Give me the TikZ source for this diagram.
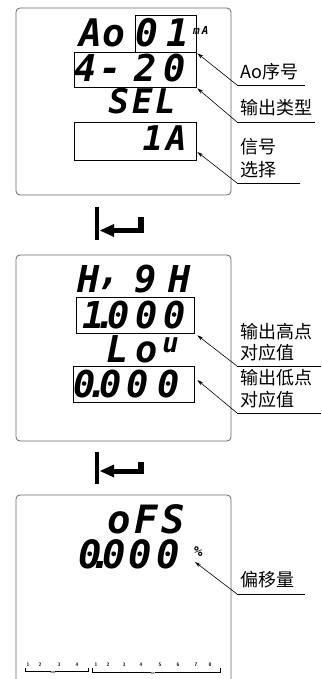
\documentclass[tikz,border=0pt]{standalone}
\usepackage{fontspec}
\newfontfamily\segfont{DejaVu Sans Mono}
\newfontfamily\cjk{Noto Sans CJK SC}
\usetikzlibrary{arrows.meta,calc}
\newcommand\segf[1]{\segfont\bfseries\itshape\fontsize{#1}{#1}\selectfont}
\tikzset{
  seg/.style={anchor=base west, inner sep=0pt, font=\segf{#1}, text depth=0pt, text height={0.73*#1pt}},
  seg/.default=38,
  panel/.style={draw=black!60, line width=0.8pt, rounded corners=4pt},
  frame/.style={draw=black, line width=0.7pt, inner sep=0pt},
  lab/.style={anchor=west, inner sep=0pt, font=\cjk\fontsize{18}{18}\selectfont},
  leader/.style={line width=0.6pt, -{Stealth[length=6pt,width=3.5pt]}},
  uline/.style={line width=0.6pt},
  tinylab/.style={inner sep=0pt, font=\sffamily\bfseries\fontsize{5}{5}\selectfont},
  microlab/.style={inner sep=0pt, font=\sffamily\bfseries\fontsize{3}{3}\selectfont},
}
\begin{document}
\begin{tikzpicture}[x=1pt,y=-1pt]
\useasboundingbox (0,0) rectangle (321,679);
\begin{scope}
\clip (0,0) rectangle (321,679);
% panels
\draw[panel] (16,8) rectangle (231,195);
\draw[panel] (16,255) rectangle (231,441);
\draw[panel] (16,495) rectangle (231,700);
\end{scope}

% ---------- panel 1 ----------
\node[seg=38] (t1) at (79.25,47) {Ao\kern10pt0\kern8.5pt1};
\node[seg=11] (ma) at (193,35) {m\kern2ptA};
\node[seg=37] (t2) at (74.25,82) {4\kern2.5pt-\kern13pt2\kern7pt0};
\node[seg=34] (t3) at (108.5,114) {S\kern3ptE\kern2.5ptL};
\node[seg=34] (t4) at (142.5,150) {1\kern3ptA};

\node[frame, minimum width=61pt, minimum height=37pt] (b01) at (165.5,33.5) {};
\node[frame, minimum width=122pt, minimum height=35pt] (b420) at (135,69.5) {};
\node[frame, minimum width=122pt, minimum height=38pt] (b1a) at (135,141) {};

\node[lab] (l1) at (240,72) {Ao序号};
\node[lab] (l2) at (240,108) {输出类型};
\node[lab] (l3a) at (240,147) {信号};
\node[lab] (l3b) at (240,170) {选择};

\coordinate (u1) at (237,85);
\coordinate (u2) at (237,122);
\coordinate (u3) at (237,183);
\coordinate (p1) at ($(b01.south east)+(1,1)$);
\coordinate (p2) at ($(b420.south east)+(1,1)$);
\coordinate (p3) at ($(b1a.east)+(1,11)$);
\draw[uline] (u1) -- ++(68,0);
\draw[uline] (u2) -- ++(78,0);
\draw[uline] (u3) -- ++(63,0);
\draw[leader] (u1) -- (p1);
\draw[leader] (u2) -- (p2);
\draw[leader] (u3) -- (p3);

% ---------- enter symbol 1 ----------
\fill (95,207) rectangle (99,240);
\fill (112,228) rectangle (144,233);
\fill (138,217) rectangle (144,233);
\fill (100,230.5) -- (114,224) -- (114,237) -- cycle;

% ---------- panel 2 ----------
\node[seg=37] (t5) at (77.5,292) {H\kern-1.5pt\raisebox{8pt}{,}\kern14.2pt9\kern11.6ptH};
\node[seg=37] (t6) at (82.5,328) {1\kern-10.4pt.\kern-9.4pt0\kern5.6pt0\kern6.1pt0};
\node[seg=37] (t7) at (106.5,362) {L\kern6.1pto\kern5pt\raisebox{10pt}{\fontsize{27}{27}\selectfont u}};
\node[seg=37] (t8) at (73.5,397) {0\kern-9.9pt.\kern-8.4pt0\kern4.6pt0\kern8.1pt0};

\node[frame, minimum width=118pt, minimum height=36pt] (b1000) at (135,315) {};
\node[frame, minimum width=121pt, minimum height=36pt] (b0000) at (133.5,384) {};

\node[lab] (l4a) at (240,332) {输出高点};
\node[lab] (l4b) at (240,353) {对应值};
\node[lab] (l5a) at (240,378) {输出低点};
\node[lab] (l5b) at (240,400) {对应值};

\coordinate (u4) at (237,366);
\coordinate (u5) at (237,413);
\coordinate (p4) at ($(b1000.south east)+(3,2)$);
\coordinate (p5) at ($(b0000.east)+(3,-4)$);
\draw[uline] (u4) -- ++(84,0);
\draw[uline] (u5) -- ++(84,0);
\draw[leader] (u4) -- (p4);
\draw[leader] (u5) -- (p5);

% ---------- enter symbol 2 ----------
\fill (95,452) rectangle (99,484);
\fill (112,468.5) rectangle (144,473.5);
\fill (138,462) rectangle (144,473.5);
\fill (100,471) -- (114,464.5) -- (114,477.5) -- cycle;

% ---------- panel 3 ----------
\node[seg=39] (t9) at (107.5,533) {o\kern3.4ptF\kern3.9ptS};
\node[seg=39] (t10) at (78,568) {0\kern-12.1pt.\kern-10.1pt0\kern2.4pt0\kern4.4pt0};
\node[seg=14] (pct) at (194,556) {\%};

\node[lab] (l6) at (240,580) {偏移量};
\coordinate (u6) at (237,594);
\coordinate (p6) at (195,562);
\draw[uline] (u6) -- ++(68,0);
\draw[leader] (u6) -- (p6);

% bottom indicator scale
\foreach \n/\x [count=\k] in {1/28,2/40,3/59,4/77}
  \node[tinylab] (sa\k) at (\x,665) {\n};
\foreach \n/\x [count=\k] in {1/96,2/108,3/124,4/141,5/160,6/178,7/196,8/210}
  \node[tinylab] (sb\k) at (\x,665) {\n};
\draw[line width=0.6pt] (25,668) -- (25,671) -- (88,671) -- (88,668);
\draw[line width=0.6pt] (92,668) -- (92,672) -- (220,672) -- (220,668);
\node[microlab, fill=white] (ma1) at (53,672) {DO};
\node[microlab, fill=white] (mb1) at (153,673) {DI};
\end{tikzpicture}
\end{document}
